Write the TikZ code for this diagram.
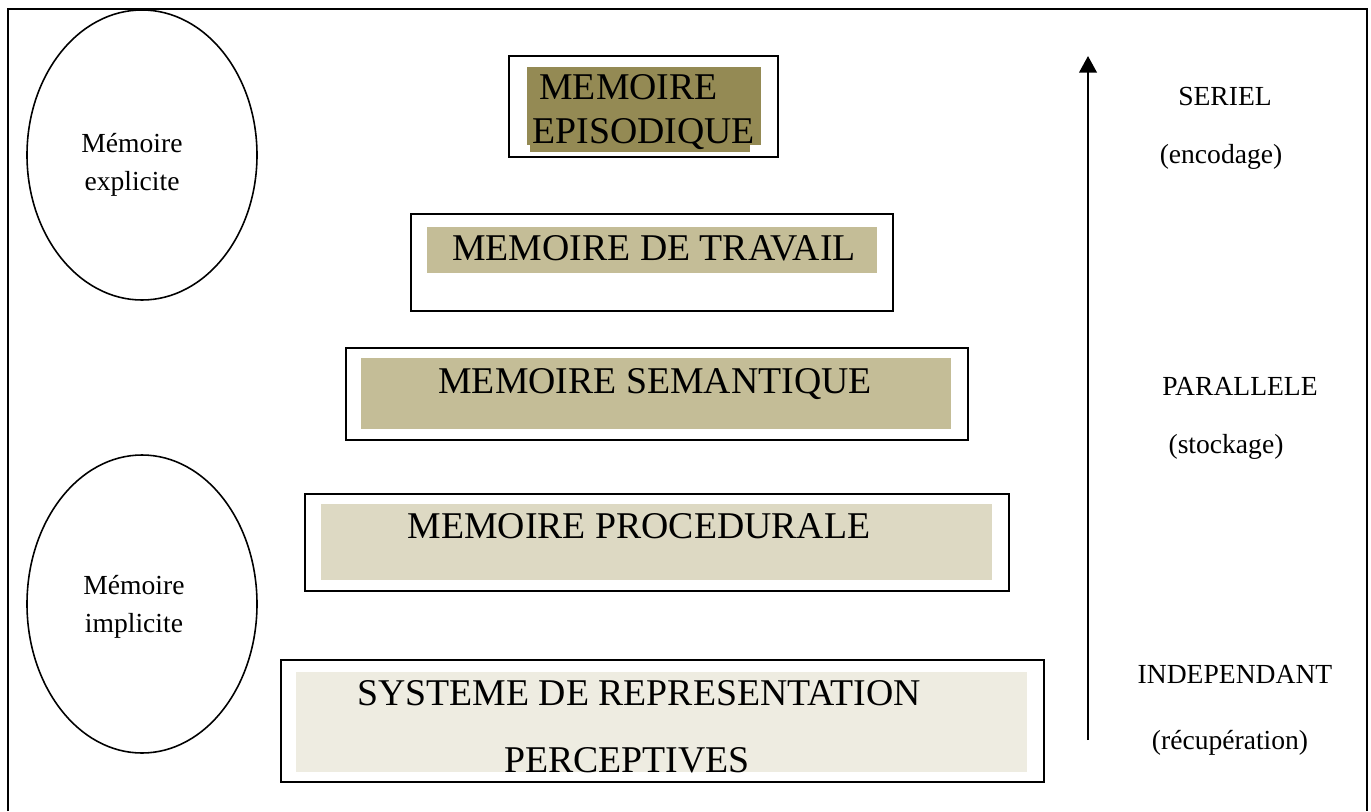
\documentclass[tikz,border=0pt]{standalone}
\usepackage{fontspec}
\setmainfont{Liberation Serif}
\usetikzlibrary{arrows.meta}

\definecolor{olivedark}{HTML}{948A54}
\definecolor{tanmid}{HTML}{C4BD97}
\definecolor{tanlight}{HTML}{DDD9C3}
\definecolor{tanpale}{HTML}{EEECE1}

\tikzset{
    boxline/.style={line width=1pt},
    levellabel/.style={font=\fontsize{21.5}{25}\selectfont, inner sep=0pt, anchor=base},
    sidelabel/.style={font=\fontsize{15.7}{19}\selectfont, inner sep=0pt, anchor=base},
}

\begin{document}
\begin{tikzpicture}[x=0.02cm, y=-0.02cm]
    \def\levelbox#1#2#3#4#5{
        \fill[#5] (#3) rectangle (#4);
        \draw[boxline] (#1) rectangle (#2);
    }
    \useasboundingbox (0,0) rectangle (1371,811);

    % Page frame, open at the bottom
    \draw[line width=1pt] (8,811) -- (8,9) -- (1367,9) -- (1367,811);

    % Explicit / implicit
    \draw[line width=0.9pt] (142,155) ellipse [x radius=115, y radius=145];
    \node[sidelabel] (mexp1) at (132,152) {Mémoire};
    \node[sidelabel] (mexp2) at (132,190) {explicite};
    \draw[line width=0.9pt] (142,604) ellipse [x radius=115, y radius=149];
    \node[sidelabel] (mimp1) at (134,594) {Mémoire};
    \node[sidelabel] (mimp2) at (134,632) {implicite};

    % Episodic level
    \fill[olivedark] (527,67) rectangle (761,145);
    \fill[olivedark] (530,145) rectangle (750,152);
    \draw[boxline] (509,56) rectangle (778,157);
    \node[levellabel, anchor=base west] (episod1) at (539,99) {MEMOIRE};
    \node[levellabel, anchor=base west] (episod2) at (532,143) {EPISODIQUE};

    % Lower levels
    \levelbox{411,214}{893,311}{427,227}{877,273}{tanmid}
    \node[levellabel] (travail) at (654,260) {MEMOIRE DE TRAVAIL};
    \levelbox{346,348}{968,440}{361,358}{951,429}{tanmid}
    \node[levellabel] (semant) at (655,393) {MEMOIRE SEMANTIQUE};
    \levelbox{305,494}{1009,591}{321,504}{992,580}{tanlight}
    \node[levellabel] (proced) at (639,538) {MEMOIRE PROCEDURALE};
    \levelbox{281,660}{1044,782}{296,672}{1027,772}{tanpale}
    \node[levellabel] (srp1) at (639,705) {SYSTEME DE REPRESENTATION};
    \node[levellabel] (srp2) at (627,772) {PERCEPTIVES};

    % Processing axis
    \coordinate (arrbot) at (1088,740);
    \coordinate (arrtop) at (1088,56);
    \draw[line width=1.4pt, -{Triangle[length=9.5pt,width=10pt]}] (arrbot) -- (arrtop);

    \node[sidelabel] (seriel) at (1225,106) {SERIEL};
    \node[sidelabel] (encod) at (1221,163) {(encodage)};
    \node[sidelabel] (parall) at (1240,395) {PARALLELE};
    \node[sidelabel] (stock) at (1226,453) {(stockage)};
    \node[sidelabel] (indep) at (1235,683) {INDEPENDANT};
    \node[sidelabel] (recup) at (1230,749) {(récupération)};
\end{tikzpicture}
\end{document}
